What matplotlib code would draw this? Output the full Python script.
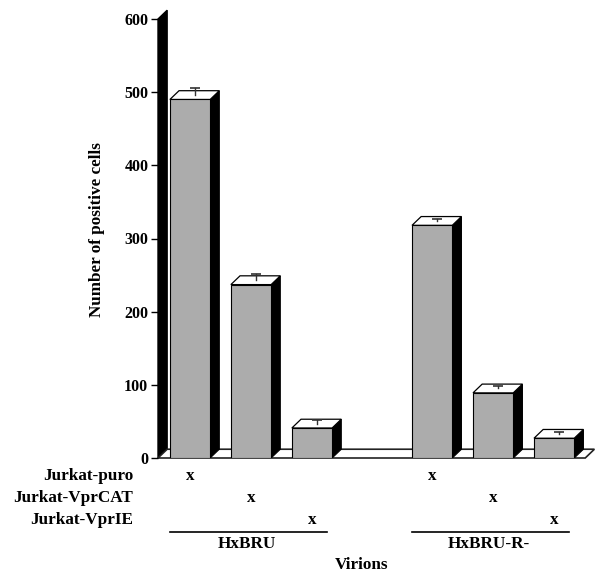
import matplotlib.pyplot as plt
from matplotlib.patches import Polygon, Rectangle

plt.rcParams['font.family'] = ['Liberation Serif', 'DejaVu Serif']
plt.rcParams['font.weight'] = 'bold'

# data
cells = ['Jurkat-puro', 'Jurkat-VprCAT', 'Jurkat-VprIE']
virions = ['HxBRU', 'HxBRU-R-']
values = [490, 237, 41, 318, 89, 27]
errors = [10, 8, 5, 3, 4, 3]
cell_of_bar = [0, 1, 2, 0, 1, 2]
positions = [0, 1, 2, 3.97, 4.97, 5.97]
yticks = [0, 100, 200, 300, 400, 500, 600]

front_col = '#acacac'
w = 0.66      # bar width
dx, dy = 0.15, 12   # depth offset
fs = 12.3

fig = plt.figure(figsize=(6.03, 5.76), dpi=100)
ax = fig.add_axes([158/603, 118/576, 437/603, 439/576])
xl, xr = -0.525, 6.64
ax.set_xlim(xl, xr)
ax.set_ylim(0, 600)

# back wall (y axis) and floor
ax.add_patch(Polygon([(xl, 0), (xl+dx, dy), (xl+dx, 600+dy), (xl, 600)],
                     closed=True, fc='black', ec='black', clip_on=False, zorder=1))
fl_r = 6.48
ax.add_patch(Polygon([(xl, 0), (xl+dx, dy), (fl_r+dx, dy), (fl_r, 0)],
                     closed=True, fc='white', ec='#222222', lw=1.2, clip_on=False, zorder=1))

for x, v, e in zip(positions, values, errors):
    l, r = x - w/2, x + w/2
    ax.add_patch(Polygon([(r, 0), (r+dx, dy), (r+dx, v+dy), (r, v)],
                         closed=True, fc='black', ec='black', lw=0.8, zorder=2))
    ax.add_patch(Polygon([(l, v), (l+dx, v+dy), (r+dx, v+dy), (r, v)],
                         closed=True, fc='white', ec='black', lw=0.9, zorder=2))
    ax.add_patch(Rectangle((l, 0), w, v, fc=front_col, ec='black', lw=0.8, zorder=3))
    # error bar: upper half only, T-shaped
    ex, ey = x + dx/2, v + dy/2
    ax.plot([ex, ex], [ey, ey + e], color='#333333', lw=1, zorder=4)
    ax.plot([ex], [ey + e], marker='_', ms=7, mew=1.2, color='#333333', zorder=4)

for s in ax.spines.values():
    s.set_visible(False)
ax.set_xticks([])
ax.set_yticks(yticks)
ax.tick_params(axis='y', direction='out', length=5, width=1, labelsize=11.5, pad=2)
for t in ax.get_yticklabels():
    t.set_fontweight('bold')
ax.set_ylabel('Number of positive cells', fontsize=fs, fontweight='bold')
ax.yaxis.set_label_coords(-0.121, 0.52)

# design table below the bars
row_y = [-24, -54, -85]
for i, name in enumerate(cells):
    ax.text(-0.93, row_y[i], name, ha='right', va='center', fontsize=fs,
            fontweight='bold', clip_on=False)
for x, c in zip(positions, cell_of_bar):
    ax.text(x, row_y[c], 'x', ha='center', va='center', fontsize=fs,
            fontweight='bold', clip_on=False)

groups = [positions[0:3], positions[3:6]]
for name, g in zip(virions, groups):
    ax.plot([g[0] - 0.33, g[-1] + 0.25], [-101, -101], color='black', lw=1.2,
            clip_on=False)
    ax.text((g[0] + g[-1]) / 2 - 0.07, -118, name, ha='center', va='center',
            fontsize=fs, fontweight='bold', clip_on=False)
ax.text(2.82, -146, 'Virions', ha='center', va='center', fontsize=fs,
        fontweight='bold', clip_on=False)

fig.savefig('out.png', dpi=100)
